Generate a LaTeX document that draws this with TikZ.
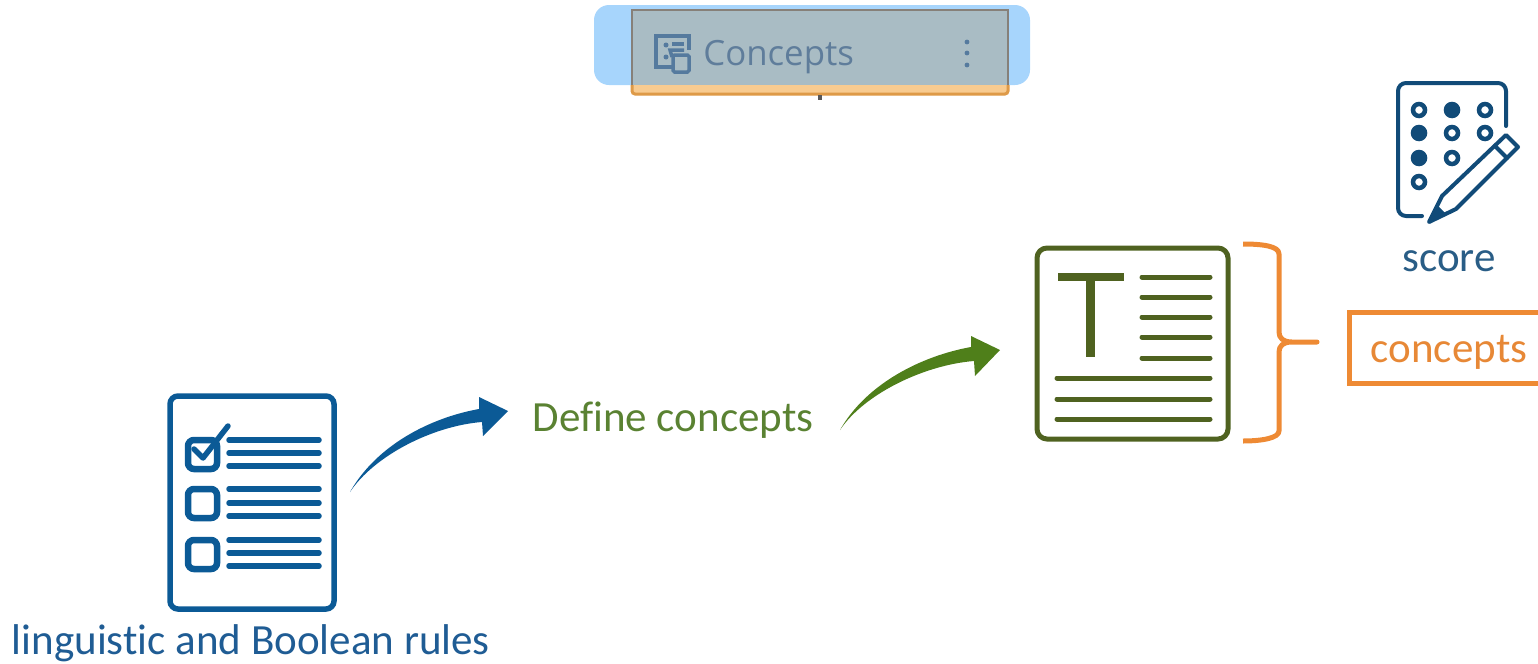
\documentclass[tikz,border=0pt]{standalone}
\usepackage{fontspec}
\usepackage{xcolor}
\setmainfont{Carlito}[Ligatures=NoCommon]
\newfontfamily\cardfont{Open Sans}
\definecolor{ruleblue}{HTML}{0B5A96}
\definecolor{scoreblue}{HTML}{114B78}
\definecolor{labelblue}{HTML}{1F5C94}
\definecolor{docgreen}{HTML}{4F6220}
\definecolor{arrowgreen}{HTML}{4F7F1A}
\definecolor{labelgreen}{HTML}{5A8232}
\definecolor{braceorange}{HTML}{EE8A34}
\definecolor{overlayblue}{HTML}{A7D5FC}
\definecolor{cardgray}{HTML}{A9BCC4}
\definecolor{cardtext}{HTML}{5F7D9B}
\definecolor{cardicon}{HTML}{557A9E}
\definecolor{stripeorange}{HTML}{F8CB90}
\definecolor{stripeline}{HTML}{DE9A48}
\usetikzlibrary{positioning}

\begin{document}
\begin{tikzpicture}[
            x=0.02cm, y=-0.02cm,
            rulebox/.style={draw=ruleblue, line width=0.11cm, rounded corners=0.16cm},
            checkbox/.style={draw=ruleblue, line width=0.13cm, rounded corners=0.12cm},
            ruleline/.style={draw=ruleblue, line width=0.11cm, line cap=round, line join=round},
            docline/.style={draw=docgreen, line width=0.1cm, line cap=round},
            scoreline/.style={draw=scoreblue, line width=0.08cm, line cap=round, line join=round},
            dotopen/.style={draw=scoreblue, line width=0.09cm, fill=white},
            dotfull/.style={draw=scoreblue, line width=0.09cm, fill=scoreblue},
            label/.style={font=\fontsize{24.5}{28}\selectfont, inner sep=0pt, anchor=base}
        ]
            \useasboundingbox (0,0) rectangle (1538,663);

% Concepts card
            \fill[overlayblue, rounded corners=0.3cm] (594,5) rectangle (1030,85);
            \fill[stripeorange, rounded corners=0.06cm] (632,75) rectangle (1008,95);
            \draw[stripeline, line width=0.06cm, rounded corners=0.06cm] (632,85) -- (632,94) -- (1008,94) -- (1008,85);
            \fill[cardgray] (632,9) rectangle (1008,85);
            \draw[gray!90!brown, line width=0.05cm] (632,85) -- (632,10) -- (1008,10) -- (1008,85);
            \fill[black!65] (818,95) rectangle (822,100);
            \node[font=\cardfont\fontsize{19.8}{24}\selectfont, text=cardtext, inner sep=0pt, anchor=base west] (cardtitle) at (703,65) {Concepts};
            \draw[cardicon, line width=0.07cm] (672,67) -- (656,67) -- (656,36) -- (689,36) -- (689,50);
            \draw[cardicon, line width=0.07cm] (672,44) -- (684,44);
            \draw[cardicon, line width=0.07cm] (672,57) -- (670,50) -- (684,50);
            \draw[cardicon, line width=0.07cm, rounded corners=0.03cm] (673,72) rectangle (689,55);
            \fill[cardicon] (666,45) circle (2.5);
            \fill[cardicon] (666,57) circle (2.5);
            \fill[cardicon] (967,42) circle (2.4);
            \fill[cardicon] (967,53) circle (2.4);
            \fill[cardicon] (967,65) circle (2.4);

% Rules list
            \draw[rulebox] (170,396) rectangle (334,609);
            \draw[checkbox] (188,440) rectangle (217,469);
            \draw[checkbox] (188,489) rectangle (217,518);
            \draw[checkbox] (188,540) rectangle (217,569);
            \draw[ruleline] (194,449) -- (203,458) -- (228,426);
            \draw[ruleline] (229,440) -- (319,440);
            \draw[ruleline] (229,453) -- (319,453);
            \draw[ruleline] (229,466) -- (319,466);
            \draw[ruleline] (229,489) -- (319,489);
            \draw[ruleline] (229,503) -- (319,503);
            \draw[ruleline] (229,516) -- (319,516);
            \draw[ruleline] (229,540) -- (319,540);
            \draw[ruleline] (229,553) -- (319,553);
            \draw[ruleline] (229,566) -- (319,566);
            \node[label, text=labelblue] (rules) at (251,654.5) {linguistic and Boolean rules};

% Bent arrows
            \coordinate (rulesout) at (350,492);
            \coordinate (defineout) at (840,430);
            \fill[ruleblue] (rulesout) .. controls +(26,-46) and +(-50,9) .. ++(129,-83) -- ++(0,-12) -- ++(29,14) -- ++(-25,25) -- ++(-1,-14) .. controls +(-50,4) and +(24,-36) .. (rulesout) -- cycle;
            \fill[arrowgreen] (defineout) .. controls +(26,-46) and +(-50,9) .. ++(131,-83) -- ++(0,-11) -- ++(29,14) -- ++(-25,26) -- ++(-1,-15) .. controls +(-50,4) and +(24,-36) .. (defineout) -- cycle;
            \node[label, text=labelgreen] (define) at (673,431.5) {Define concepts};

% Text document
            \draw[docgreen, line width=0.1cm, rounded corners=0.2cm] (1037,248) rectangle (1228,439);
            \fill[docgreen] (1058,273) rectangle (1124,281);
            \fill[docgreen] (1086,281) rectangle (1095,357);
            \draw[docline] (1142,277) -- (1210,277);
            \draw[docline] (1142,297) -- (1210,297);
            \draw[docline] (1142,317) -- (1210,317);
            \draw[docline] (1142,337) -- (1210,337);
            \draw[docline] (1142,358) -- (1210,358);
            \draw[docline] (1057,378) -- (1210,378);
            \draw[docline] (1057,399) -- (1210,399);
            \draw[docline] (1057,419) -- (1210,419);

% Brace
            \draw[braceorange, line width=0.1cm, line join=round] (1243,244) .. controls (1262,244) and (1279,246) .. (1279,254) -- (1279,332) .. controls (1279,338) and (1283,342) .. (1292,342) -- (1317,342) -- (1292,342) .. controls (1283,342) and (1279,346) .. (1279,352) -- (1279,431) .. controls (1279,438) and (1262,441) .. (1243,441);

% Score sheet
            \draw[scoreline, rounded corners=0.16cm] (1422,216) -- (1398,216) -- (1398,83) -- (1506,83) -- (1506,126);
            \draw[dotopen] (1419,110) circle (6);
            \draw[dotfull] (1452,110) circle (6);
            \draw[dotopen] (1485,110) circle (6);
            \draw[dotfull] (1419,133) circle (6);
            \draw[dotopen] (1452,133) circle (6);
            \draw[dotopen] (1485,133) circle (6);
            \draw[dotfull] (1419,158) circle (6);
            \draw[dotopen] (1452,158) circle (6);
            \draw[dotopen] (1419,182) circle (6);
            \draw[scoreline] (1429,222) -- (1442,196) -- (1506,135) -- (1518,147) -- (1456,209) -- cycle;
            \draw[scoreline] (1495,146) -- (1507,158);
            \fill[scoreblue] (1429,222) -- (1437,205) -- (1446,214) -- cycle;
            \node[label, text=scoreblue!90!white] (score) at (1449,271) {score};

% Concepts output
            \draw[braceorange, line width=0.1cm] (1538,312) -- (1349,312) -- (1349,383) -- (1538,383);
            \node[label, text=braceorange!85!brown] (concepts) at (1449,362.5) {concepts};

        \end{tikzpicture}
\end{document}
